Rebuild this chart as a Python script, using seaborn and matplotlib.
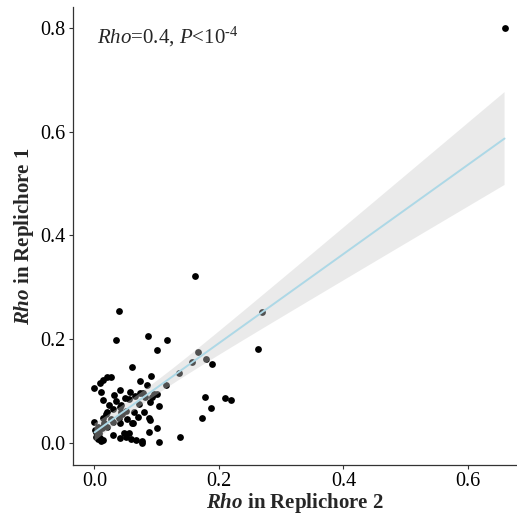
import matplotlib
matplotlib.use("Agg")
import matplotlib.pyplot as plt
import seaborn as sns
import numpy as np
import pandas as pd

# Rho values (x: Replichore 2, y: Replichore 1)
rho_rep2 = [0.659, 0.162, 0.039, 0.269, 0.086, 0.035, 0.116, 0.263, 0.101, 0.167,
            0.179, 0.157, 0.189, 0.061, 0.136, 0.091, 0.020, 0.026, 0.014, 0.073,
            0.009, 0.085, 0.115, 0.000, 0.041, 0.010, 0.057, 0.073, 0.078, 0.032,
            0.092, 0.177, 0.210, 0.220, 0.049, 0.056, 0.013, 0.089, 0.072, 0.043,
            0.023, 0.104, 0.187, 0.020, 0.042, 0.064, 0.040, 0.013, 0.088, 0.090,
            0.172, 0.053, 0.062, 0.026, 0.000, 0.041, 0.016, 0.101, 0.001, 0.003,
            0.005, 0.002, 0.006, 0.011, 0.029, 0.041, 0.048, 0.056, 0.050, 0.058,
            0.066, 0.076, 0.087, 0.104, 0.137, 0.009, 0.014, 0.060, 0.015, 0.077,
            0.020, 0.030, 0.045, 0.050, 0.095, 0.082, 0.041, 0.005, 0.008, 0.012,
            0.018, 0.030, 0.035, 0.065, 0.070, 0.080, 0.100]
rho_rep1 = [0.800, 0.321, 0.255, 0.252, 0.206, 0.199, 0.199, 0.181, 0.179, 0.175,
            0.161, 0.156, 0.153, 0.146, 0.134, 0.130, 0.128, 0.127, 0.121, 0.120,
            0.116, 0.112, 0.111, 0.105, 0.102, 0.099, 0.098, 0.096, 0.096, 0.092,
            0.089, 0.089, 0.087, 0.083, 0.086, 0.084, 0.083, 0.078, 0.076, 0.073,
            0.073, 0.072, 0.067, 0.060, 0.059, 0.059, 0.048, 0.048, 0.049, 0.045,
            0.048, 0.046, 0.039, 0.046, 0.041, 0.038, 0.038, 0.028, 0.025, 0.022,
            0.030, 0.012, 0.007, 0.003, 0.015, 0.009, 0.020, 0.020, 0.011, 0.007,
            0.006, 0.003, 0.021, 0.001, 0.011, 0.010, 0.005, 0.038, 0.034, 0.000,
            0.030, 0.040, 0.055, 0.062, 0.095, 0.088, 0.070, 0.015, 0.020, 0.028,
            0.055, 0.065, 0.080, 0.090, 0.050, 0.060, 0.095]

x_ticks = [0.0, 0.2, 0.4, 0.6]
y_ticks = [0.0, 0.2, 0.4, 0.6, 0.8]
x_ticklabels = ["0.0", "0.2", "0.4", "0.6"]
y_ticklabels = ["0.0", "0.2", "0.4", "0.6", "0.8"]

df = pd.DataFrame({"rep2": rho_rep2, "rep1": rho_rep1})

sns.set_style("white")
plt.rcParams["font.family"] = ["Liberation Serif", "DejaVu Serif"]
plt.rcParams["mathtext.fontset"] = "custom"
plt.rcParams["mathtext.rm"] = "Liberation Serif"
plt.rcParams["mathtext.it"] = "Liberation Serif:italic"
plt.rcParams["mathtext.bf"] = "Liberation Serif:bold"
plt.rcParams["mathtext.bfit"] = "Liberation Serif:italic:bold"

fig = plt.figure(figsize=(5.17, 5.17), dpi=100)
ax = fig.add_axes([0.1406, 0.1006, 0.8594, 0.8859])

sns.scatterplot(data=df, x="rep2", y="rep1", ax=ax, color="black",
                s=24, linewidth=0, zorder=2)

# linear fit with analytic 95% confidence band (like geom_smooth(method="lm"))
xv = df["rep2"].to_numpy()
yv = df["rep1"].to_numpy()
n = len(xv)
slope, intercept = np.polyfit(xv, yv, 1)
resid = yv - (slope * xv + intercept)
s_err = np.sqrt(np.sum(resid ** 2) / (n - 2))
sxx = np.sum((xv - xv.mean()) ** 2)
t_val = 1.986
grid = np.linspace(xv.min(), xv.max(), 200)
fit = slope * grid + intercept
half = t_val * s_err * np.sqrt(1.0 / n + (grid - xv.mean()) ** 2 / sxx)
ax.fill_between(grid, fit - half, fit + half, facecolor="#CCCCCC",
                alpha=0.4, edgecolor="none", zorder=3)

sns.regplot(data=df, x="rep2", y="rep1", ax=ax, scatter=False, ci=None,
            color="#ADD8E6", line_kws={"linewidth": 1.4, "zorder": 4})

ax.set_xlim(-0.035, 0.679)
ax.set_ylim(-0.0424, 0.840)
ax.set_xticks(x_ticks)
ax.set_xticklabels(x_ticklabels)
ax.set_yticks(y_ticks)
ax.set_yticklabels(y_ticklabels)

for side in ["top", "right"]:
    ax.spines[side].set_visible(False)
for side in ["left", "bottom"]:
    ax.spines[side].set_color("#333333")
    ax.spines[side].set_linewidth(0.9)

ax.tick_params(axis="both", which="major", direction="out", length=3,
               width=0.8, color="#333333", labelsize=14.5, labelcolor="black",
               pad=2, left=True, bottom=True)

ax.set_xlabel(r"$\mathbfit{Rho}$ in Replichore 2", fontsize=15,
              fontweight="bold", labelpad=0)
ax.set_ylabel(r"$\mathbfit{Rho}$ in Replichore 1", fontsize=15,
              fontweight="bold", labelpad=3)

ax.text(0.004, 0.782, r"$\mathit{Rho}$=0.4, $\mathit{P}$<10$^{\text{-4}}$",
        fontsize=15, ha="left", va="center")

fig.savefig("out.png", dpi=100)
